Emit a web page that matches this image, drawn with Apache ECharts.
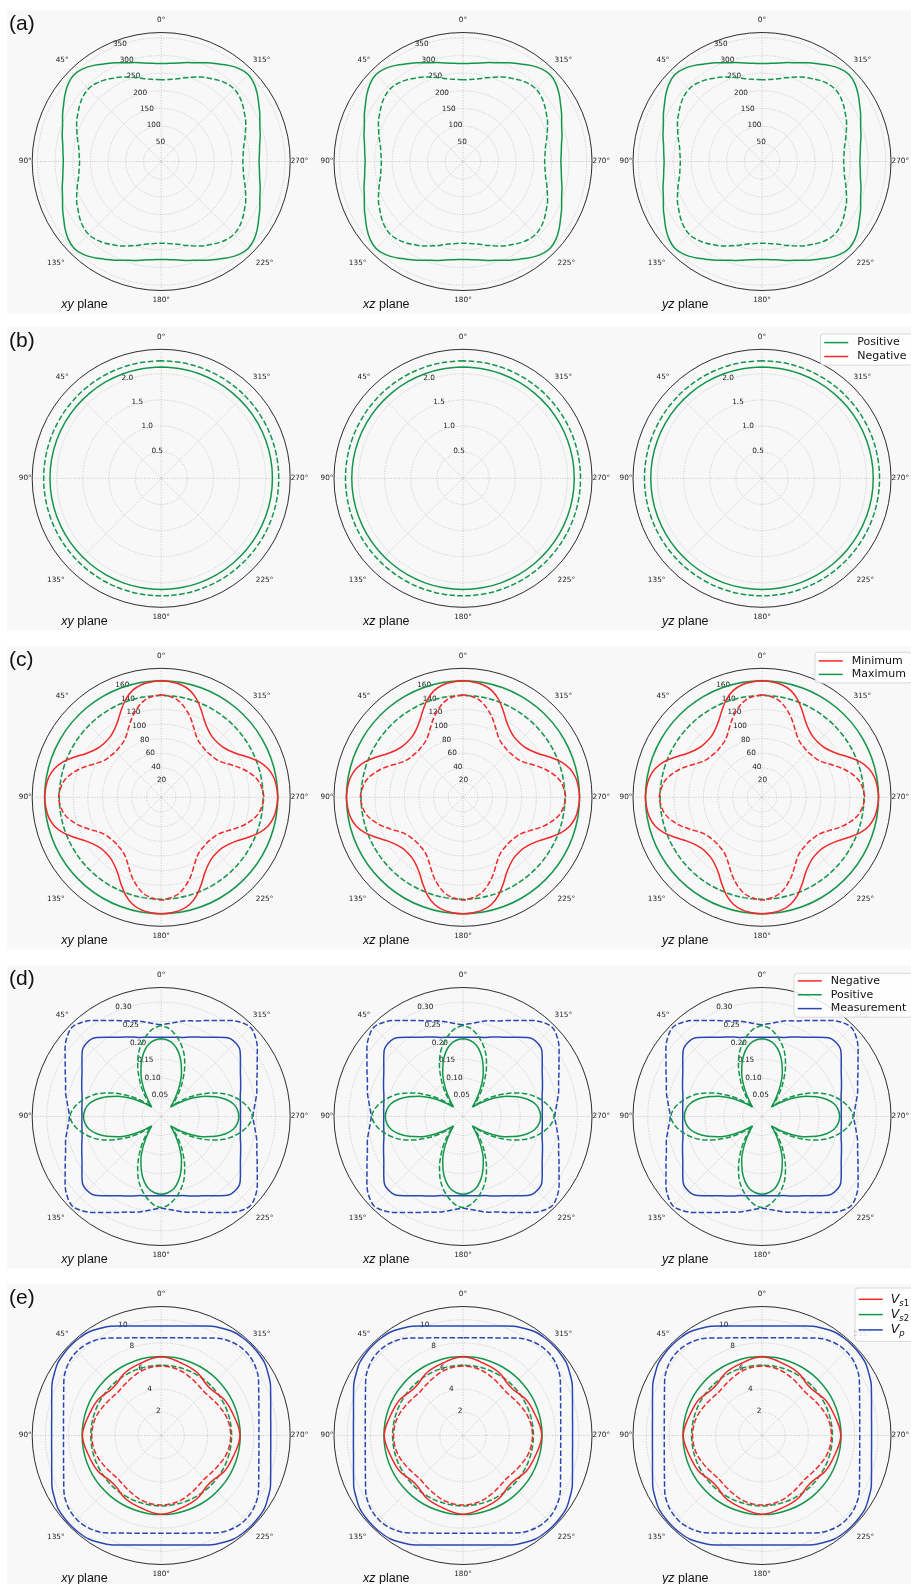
<!DOCTYPE html>
<html>
<head>
<meta charset="utf-8">
<script src="https://cdn.jsdelivr.net/npm/echarts@6/dist/echarts.min.js"></script>
<style>
  html, body { margin: 0; padding: 0; background: #ffffff; }
  #chart { width: 911px; height: 1584px; }
</style>
</head>
<body>
<div id="chart"></div>
<script>
// ---- angles (degrees, 0 at top, counter-clockwise) ----
const ANGLES_5 = [
  0,5,10,15,20,25,30,35,40,45,50,55,60,65,70,75,80,85,90,
  95,100,105,110,115,120,125,130,135,140,145,150,155,160,165,170,175,180,
  185,190,195,200,205,210,215,220,225,230,235,240,245,250,255,260,265,270,
  275,280,285,290,295,300,305,310,315,320,325,330,335,340,345,350,355,360
];
const ANGLES_10 = [
  0,10,20,30,40,50,60,70,80,
  90,100,110,120,130,140,150,160,170,
  180,190,200,210,220,230,240,250,260,
  270,280,290,300,310,320,330,340,350,
  360
];

// ---- (a) ----
const A_SOLID = [
  277,279,283,290,297,308,319,332,343,348,343,332,319,308,297,290,283,279,277,
  279,283,290,297,308,319,332,343,348,343,332,319,308,297,290,283,279,277,
  279,283,290,297,308,319,332,343,348,343,332,319,308,297,290,283,279,277,
  279,283,290,297,308,319,332,343,348,343,332,319,308,297,290,283,279,277
];
const A_DASHED = [
  231,233,237,245,254,264,272,281,288,291,288,281,272,264,254,245,237,233,231,
  233,237,245,254,264,272,281,288,291,288,281,272,264,254,245,237,233,231,
  233,237,245,254,264,272,281,288,291,288,281,272,264,254,245,237,233,231,
  233,237,245,254,264,272,281,288,291,288,281,272,264,254,245,237,233,231
];

// ---- (b) ----
const B_POS_SOLID = [
  2.13,2.13,2.13,2.13,2.13,2.13,2.13,2.13,2.13,
  2.13,2.13,2.13,2.13,2.13,2.13,2.13,2.13,2.13,
  2.13,2.13,2.13,2.13,2.13,2.13,2.13,2.13,2.13,
  2.13,2.13,2.13,2.13,2.13,2.13,2.13,2.13,2.13,
  2.13
];
const B_POS_DASHED = [
  2.25,2.25,2.25,2.25,2.25,2.25,2.25,2.25,2.25,
  2.25,2.25,2.25,2.25,2.25,2.25,2.25,2.25,2.25,
  2.25,2.25,2.25,2.25,2.25,2.25,2.25,2.25,2.25,
  2.25,2.25,2.25,2.25,2.25,2.25,2.25,2.25,2.25,
  2.25
];

// ---- (c) ----
const C_MAX_SOLID = [
  159,159,159,159,159,159,159,159,159,
  159,159,159,159,159,159,159,159,159,
  159,159,159,159,159,159,159,159,159,
  159,159,159,159,159,159,159,159,159,
  159
];
const C_MAX_DASHED = [
  139,139,139,139,139,139,139,139,139,
  139,139,139,139,139,139,139,139,139,
  139,139,139,139,139,139,139,139,139,
  139,139,139,139,139,139,139,139,139,
  139
];
const C_MIN_SOLID = [
  159,158,156,151,142,130,119,112,108,107,108,112,119,130,142,151,156,158,159,
  158,156,151,142,130,119,112,108,107,108,112,119,130,142,151,156,158,159,
  158,156,151,142,130,119,112,108,107,108,112,119,130,142,151,156,158,159,
  158,156,151,142,130,119,112,108,107,108,112,119,130,142,151,156,158,159
];
const C_MIN_DASHED = [
  140,138,134,126,116,105,96,91,89,88,89,91,96,105,116,126,134,138,140,
  138,134,126,116,105,96,91,89,88,89,91,96,105,116,126,134,138,140,
  138,134,126,116,105,96,91,89,88,89,91,96,105,116,126,134,138,140,
  138,134,126,116,105,96,91,89,88,89,91,96,105,116,126,134,138,140
];

// ---- (d) ----
const D_MEAS_SOLID = [
  0.208,0.209,0.211,0.215,0.222,0.230,0.240,0.254,0.270,0.275,0.270,0.254,0.240,0.230,0.222,0.215,0.211,0.209,0.208,
  0.209,0.211,0.215,0.222,0.230,0.240,0.254,0.270,0.275,0.270,0.254,0.240,0.230,0.222,0.215,0.211,0.209,0.208,
  0.209,0.211,0.215,0.222,0.230,0.240,0.254,0.270,0.275,0.270,0.254,0.240,0.230,0.222,0.215,0.211,0.209,0.208,
  0.209,0.211,0.215,0.222,0.230,0.240,0.254,0.270,0.275,0.270,0.254,0.240,0.230,0.222,0.215,0.211,0.209,0.208
];
const D_MEAS_DASHED = [
  0.241,0.245,0.252,0.260,0.267,0.278,0.291,0.308,0.323,0.331,0.323,0.308,0.291,0.278,0.267,0.260,0.252,0.245,0.241,
  0.245,0.252,0.260,0.267,0.278,0.291,0.308,0.323,0.331,0.323,0.308,0.291,0.278,0.267,0.260,0.252,0.245,0.241,
  0.245,0.252,0.260,0.267,0.278,0.291,0.308,0.323,0.331,0.323,0.308,0.291,0.278,0.267,0.260,0.252,0.245,0.241,
  0.245,0.252,0.260,0.267,0.278,0.291,0.308,0.323,0.331,0.323,0.308,0.291,0.278,0.267,0.260,0.252,0.245,0.241
];
const D_POS_SOLID = [
  0.204,0.201,0.192,0.175,0.152,0.126,0.098,0.071,0.049,0.035,0.049,0.071,0.098,0.126,0.152,0.175,0.192,0.201,0.204,
  0.201,0.192,0.175,0.152,0.126,0.098,0.071,0.049,0.035,0.049,0.071,0.098,0.126,0.152,0.175,0.192,0.201,0.204,
  0.201,0.192,0.175,0.152,0.126,0.098,0.071,0.049,0.035,0.049,0.071,0.098,0.126,0.152,0.175,0.192,0.201,0.204,
  0.201,0.192,0.175,0.152,0.126,0.098,0.071,0.049,0.035,0.049,0.071,0.098,0.126,0.152,0.175,0.192,0.201,0.204
];
const D_POS_DASHED = [
  0.239,0.232,0.217,0.198,0.175,0.146,0.115,0.087,0.059,0.037,0.059,0.087,0.115,0.146,0.175,0.198,0.217,0.232,0.239,
  0.232,0.217,0.198,0.175,0.146,0.115,0.087,0.059,0.037,0.059,0.087,0.115,0.146,0.175,0.198,0.217,0.232,0.239,
  0.232,0.217,0.198,0.175,0.146,0.115,0.087,0.059,0.037,0.059,0.087,0.115,0.146,0.175,0.198,0.217,0.232,0.239,
  0.232,0.217,0.198,0.175,0.146,0.115,0.087,0.059,0.037,0.059,0.087,0.115,0.146,0.175,0.198,0.217,0.232,0.239
];

// ---- (e) ----
const E_VP_SOLID = [
  9.46,9.50,9.60,9.79,10.06,10.41,10.66,10.91,10.99,11.02,10.99,10.91,10.66,10.41,10.06,9.79,9.60,9.50,9.46,
  9.50,9.60,9.79,10.06,10.41,10.66,10.91,10.99,11.02,10.99,10.91,10.66,10.41,10.06,9.79,9.60,9.50,9.46,
  9.50,9.60,9.79,10.06,10.41,10.66,10.91,10.99,11.02,10.99,10.91,10.66,10.41,10.06,9.79,9.60,9.50,9.46,
  9.50,9.60,9.79,10.06,10.41,10.66,10.91,10.99,11.02,10.99,10.91,10.66,10.41,10.06,9.79,9.60,9.50,9.46
];
const E_VP_DASHED = [
  8.44,8.47,8.57,8.73,8.97,9.29,9.70,10.02,10.22,10.28,10.22,10.02,9.70,9.29,8.97,8.73,8.57,8.47,8.44,
  8.47,8.57,8.73,8.97,9.29,9.70,10.02,10.22,10.28,10.22,10.02,9.70,9.29,8.97,8.73,8.57,8.47,8.44,
  8.47,8.57,8.73,8.97,9.29,9.70,10.02,10.22,10.28,10.22,10.02,9.70,9.29,8.97,8.73,8.57,8.47,8.44,
  8.47,8.57,8.73,8.97,9.29,9.70,10.02,10.22,10.28,10.22,10.02,9.70,9.29,8.97,8.73,8.57,8.47,8.44
];
const E_VS2_SOLID = [
  6.83,6.83,6.83,6.83,6.83,6.83,6.83,6.83,6.83,
  6.83,6.83,6.83,6.83,6.83,6.83,6.83,6.83,6.83,
  6.83,6.83,6.83,6.83,6.83,6.83,6.83,6.83,6.83,
  6.83,6.83,6.83,6.83,6.83,6.83,6.83,6.83,6.83,
  6.83
];
const E_VS2_DASHED = [
  6.08,6.08,6.08,6.08,6.08,6.08,6.08,6.08,6.08,
  6.08,6.08,6.08,6.08,6.08,6.08,6.08,6.08,6.08,
  6.08,6.08,6.08,6.08,6.08,6.08,6.08,6.08,6.08,
  6.08,6.08,6.08,6.08,6.08,6.08,6.08,6.08,6.08,
  6.08
];
const E_VS1_SOLID = [
  6.80,6.74,6.62,6.50,6.42,6.35,6.26,6.09,5.92,5.87,5.92,6.09,6.26,6.35,6.42,6.50,6.62,6.74,6.80,
  6.74,6.62,6.50,6.42,6.35,6.26,6.09,5.92,5.87,5.92,6.09,6.26,6.35,6.42,6.50,6.62,6.74,6.80,
  6.74,6.62,6.50,6.42,6.35,6.26,6.09,5.92,5.87,5.92,6.09,6.26,6.35,6.42,6.50,6.62,6.74,6.80,
  6.74,6.62,6.50,6.42,6.35,6.26,6.09,5.92,5.87,5.92,6.09,6.26,6.35,6.42,6.50,6.62,6.74,6.80
];
const E_VS1_DASHED = [
  6.00,5.98,5.94,5.87,5.77,5.64,5.53,5.42,5.34,5.29,5.34,5.42,5.53,5.64,5.77,5.87,5.94,5.98,6.00,
  5.98,5.94,5.87,5.77,5.64,5.53,5.42,5.34,5.29,5.34,5.42,5.53,5.64,5.77,5.87,5.94,5.98,6.00,
  5.98,5.94,5.87,5.77,5.64,5.53,5.42,5.34,5.29,5.34,5.42,5.53,5.64,5.77,5.87,5.94,5.98,6.00,
  5.98,5.94,5.87,5.77,5.64,5.53,5.42,5.34,5.29,5.34,5.42,5.53,5.64,5.77,5.87,5.94,5.98,6.00
];

// ---- panel labels and radial scales ----
const ROW_TAGS = ['(a)', '(b)', '(c)', '(d)', '(e)'];
const PLANES = ['xy', 'xz', 'yz'];
const RADIAL_MAX = [365, 2.47, 176, 0.3386, 11.14];
const RADIAL_STEP = [50, 0.5, 20, 0.05, 2];
const RADIAL_DIGITS = [0, 1, 0, 2, 0];

// ---- styling ----
const GREEN = '#14964a';
const RED = '#f02828';
const BLUE = '#2a46b0';
const GRID = '#b9b9b9';
const DASH = [5.5, 2.4];
const CX = [161.2, 463, 762];
const CY = [161.5, 478.3, 797.3, 1116.5, 1435.5];
const R = 129;
const RLABEL_SHIFT = [6, -3.5];   // radial tick labels sit up and right of their ring

// per-direction nudges for the angle labels so they sit centred on a ring
const ANGLE_LABEL_FONT = { fontSize: 7.3, fontFamily: 'DejaVu Sans', color: '#222' };
const ANGLE_LABEL_RICH = {
  a0:   Object.assign({ padding: [0, 0, 8, 0] }, ANGLE_LABEL_FONT),
  a45:  Object.assign({ padding: [0, 1, 6.5, 0] }, ANGLE_LABEL_FONT),
  a90:  Object.assign({ padding: [0, 0, 0, 0] }, ANGLE_LABEL_FONT),
  a135: Object.assign({ padding: [7, 5, 0, 0] }, ANGLE_LABEL_FONT),
  a180: Object.assign({ padding: [5.5, 0, 0, 0] }, ANGLE_LABEL_FONT),
  a225: Object.assign({ padding: [7, 0, 0, 3] }, ANGLE_LABEL_FONT),
  a270: Object.assign({ padding: [0, 0, 0, 0] }, ANGLE_LABEL_FONT),
  a315: Object.assign({ padding: [0, 0, 6.5, 0] }, ANGLE_LABEL_FONT)
};

function curve(name, ang, r, color, dashed) {
  return { name, ang, r, color, dashed };
}
const CURVES = [
  [curve('a|solid', ANGLES_5, A_SOLID, GREEN, false),
   curve('a|dashed', ANGLES_5, A_DASHED, GREEN, true)],
  [curve('b|Positive', ANGLES_10, B_POS_SOLID, GREEN, false),
   curve('b|Positive', ANGLES_10, B_POS_DASHED, GREEN, true)],
  [curve('c|Maximum', ANGLES_10, C_MAX_SOLID, GREEN, false),
   curve('c|Maximum', ANGLES_10, C_MAX_DASHED, GREEN, true),
   curve('c|Minimum', ANGLES_5, C_MIN_SOLID, RED, false),
   curve('c|Minimum', ANGLES_5, C_MIN_DASHED, RED, true)],
  [curve('d|Measurement', ANGLES_5, D_MEAS_SOLID, BLUE, false),
   curve('d|Measurement', ANGLES_5, D_MEAS_DASHED, BLUE, true),
   curve('d|Positive', ANGLES_5, D_POS_SOLID, GREEN, false),
   curve('d|Positive', ANGLES_5, D_POS_DASHED, GREEN, true)],
  [curve('e|Vp', ANGLES_5, E_VP_SOLID, BLUE, false),
   curve('e|Vp', ANGLES_5, E_VP_DASHED, BLUE, true),
   curve('e|Vs2', ANGLES_10, E_VS2_SOLID, GREEN, false),
   curve('e|Vs2', ANGLES_10, E_VS2_DASHED, GREEN, true),
   curve('e|Vs1', ANGLES_5, E_VS1_SOLID, RED, false),
   curve('e|Vs1', ANGLES_5, E_VS1_DASHED, RED, true)]
];
// legend entries without a drawn curve
const LEGEND_ONLY = [
  { row: 1, name: 'b|Negative', color: RED },
  { row: 3, name: 'd|Negative', color: RED }
];

const polar = [], angleAxis = [], radiusAxis = [], series = [], graphic = [];
const dataPolarIndex = [];

function isTick(v, step) {
  const k = v / step;
  return v > 0 && Math.abs(k - Math.round(k)) < 1e-6;
}

ROW_TAGS.forEach((tag, i) => {
  const cy = CY[i];
  graphic.push({
    type: 'rect', silent: true, z: -100,
    shape: { x: 7, y: cy - 151, width: 904, height: 303 },
    style: { fill: '#f8f8f8' }
  });
  graphic.push({
    type: 'text', silent: true, x: 9, y: cy - 137,
    style: { text: tag, fontFamily: 'Liberation Sans', fontSize: 21, fill: '#111',
             verticalAlign: 'middle', align: 'left' }
  });
  dataPolarIndex[i] = [];
  CX.forEach((cx, j) => {
    const base = polar.length;
    dataPolarIndex[i][j] = base;
    polar.push({ center: [cx, cy], radius: R });
    angleAxis.push({
      polarIndex: base, type: 'value', min: 0, max: 360, interval: 45,
      startAngle: 90, clockwise: false,
      axisLine: { show: true, lineStyle: { color: '#1e1e1e', width: 0.9 } },
      axisTick: { show: false },
      axisLabel: {
        show: true, margin: 0.5,
        rich: ANGLE_LABEL_RICH,
        formatter: v => (v >= 360 ? '' : '{a' + v + '|' + v + '°}')
      },
      splitLine: { show: true, lineStyle: { color: GRID, width: 0.8, type: [1, 1.6] } }
    });
    radiusAxis.push({
      polarIndex: base, type: 'value', min: 0, max: RADIAL_MAX[i], interval: RADIAL_STEP[i],
      axisLine: { show: false }, axisTick: { show: false }, axisLabel: { show: false },
      splitLine: { show: true, lineStyle: { color: GRID, width: 0.8, type: [1, 1.6] } }
    });
    // companion polar that carries the radial tick labels along the 22.5° direction
    polar.push({ center: [cx + RLABEL_SHIFT[0], cy + RLABEL_SHIFT[1]], radius: R });
    angleAxis.push({
      polarIndex: base + 1, type: 'value', min: 0, max: 360, startAngle: 112.5,
      show: false
    });
    radiusAxis.push({
      polarIndex: base + 1, type: 'value', min: 0, max: RADIAL_MAX[i], interval: RADIAL_STEP[i],
      axisLine: { show: false }, axisTick: { show: false }, splitLine: { show: false },
      axisLabel: {
        show: true, margin: 0, align: 'center', verticalAlign: 'middle',
        fontSize: 7.3, fontFamily: 'DejaVu Sans', color: '#222',
        formatter: v => (isTick(v, RADIAL_STEP[i]) ? v.toFixed(RADIAL_DIGITS[i]) : '')
      }
    });

    CURVES[i].forEach(c => {
      series.push({
        name: c.name, type: 'line', coordinateSystem: 'polar', polarIndex: base,
        data: c.ang.map((t, k) => [c.r[k], t]),
        showSymbol: false, symbol: 'none', smooth: 0.35, animation: false,
        lineStyle: { color: c.color, width: 1.5, type: c.dashed ? DASH : 'solid' },
        itemStyle: { color: c.color }
      });
    });

    graphic.push({
      type: 'text', silent: true, x: cx - 100, y: cy + 143.5,
      style: {
        text: '{i|' + PLANES[j] + '}{n| plane}', verticalAlign: 'middle', align: 'left',
        rich: {
          i: { fontFamily: 'Liberation Sans', fontSize: 12.5, fontStyle: 'italic', fill: '#111' },
          n: { fontFamily: 'Liberation Sans', fontSize: 12.5, fill: '#111' }
        }
      }
    });
  });
});

LEGEND_ONLY.forEach(l => {
  series.push({
    name: l.name, type: 'line', coordinateSystem: 'polar',
    polarIndex: dataPolarIndex[l.row][2], data: [], showSymbol: false, symbol: 'none',
    lineStyle: { color: l.color, width: 1.5 }, itemStyle: { color: l.color }
  });
});

const LEGEND_TEXT = {
  'e|Vs1': '{v|V}{s|s}{n|1}',
  'e|Vs2': '{v|V}{s|s}{n|2}',
  'e|Vp': '{v|V}{s|p}'
};
function legendBox(left, top, names, gap, padTop, extra) {
  return Object.assign({
    orient: 'vertical', left, top,
    padding: [padTop, 6, 3, 3],
    itemWidth: 24, itemHeight: 14, itemGap: gap,
    backgroundColor: 'rgba(255,255,255,0.85)',
    borderColor: '#cfcfcf', borderWidth: 0.8, borderRadius: 3,
    selectedMode: false,
    itemStyle: { opacity: 0 },
    lineStyle: { width: 1.5 },
    textStyle: { fontFamily: 'DejaVu Sans', fontSize: 11, color: '#111', padding: [0, 0, 0, 4] },
    formatter: name => LEGEND_TEXT[name] || name.split('|')[1],
    data: names
  }, extra || {});
}

const legend = [
  legendBox(820.5, 334, ['b|Positive', 'b|Negative'], 2.7, 3),
  legendBox(815, 652.3, ['c|Minimum', 'c|Maximum'], 2.3, 3),
  legendBox(794, 973.3, ['d|Negative', 'd|Positive', 'd|Measurement'], 2.65, 2),
  legendBox(855, 1288, ['e|Vs1', 'e|Vs2', 'e|Vp'], 0, 4.5, {
    itemHeight: 17,
    textStyle: {
      fontFamily: 'DejaVu Sans', fontSize: 11, color: '#111', padding: [0, 0, 0, 3],
      rich: {
        v: { fontFamily: 'DejaVu Sans', fontStyle: 'italic', fontSize: 12.5, lineHeight: 17, color: '#111' },
        s: { fontFamily: 'DejaVu Sans', fontStyle: 'italic', fontSize: 8.5, lineHeight: 17, verticalAlign: 'bottom', color: '#111' },
        n: { fontFamily: 'DejaVu Sans', fontSize: 8.5, lineHeight: 17, verticalAlign: 'bottom', color: '#111' }
      }
    }
  })
];

const chart = echarts.init(document.getElementById('chart'), null, { renderer: 'canvas' });
chart.setOption({
  backgroundColor: '#ffffff',
  animation: false,
  polar, angleAxis, radiusAxis, series, legend, graphic
});
</script>
</body>
</html>
